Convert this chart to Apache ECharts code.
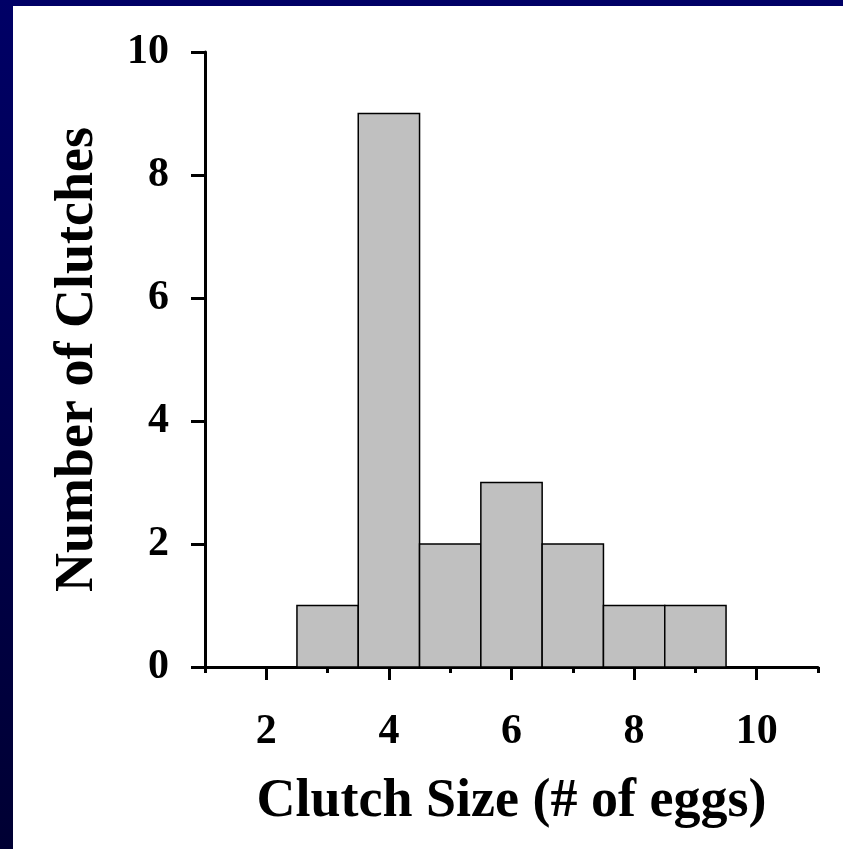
<!DOCTYPE html>
<html>
<head>
<meta charset="utf-8">
<script src="https://cdn.jsdelivr.net/npm/echarts@6/dist/echarts.min.js"></script>
<style>
  html, body {
    margin: 0;
    padding: 0;
    width: 843px;
    height: 849px;
    overflow: hidden;
    background: linear-gradient(#000066, #000033);
  }
  #chart {
    position: absolute;
    left: 13px;
    top: 6px;
    width: 830px;
    height: 843px;
    background: #ffffff;
  }
</style>
</head>
<body>
<div id="chart"></div>
<script>
// histogram data
var clutchSizes = [3, 4, 5, 6, 7, 8, 9]
var clutchCounts = [1, 9, 2, 3, 2, 1, 1]
var xMajorTicks = [2, 4, 6, 8, 10]
var xMinorTicks = [1, 3, 5, 7, 9, 11]

var serif = '"Liberation Serif", "Times New Roman", serif'

var chart = echarts.init(document.getElementById('chart'))

var barData = clutchSizes.map(function (s, i) {
  return [s, clutchCounts[i]]
})

chart.setOption({
  animation: false,
  grid: {
    left: 192,
    top: 46,
    width: 613,
    height: 615,
    containLabel: false
  },
  xAxis: [{
    type: 'value',
    min: 1,
    max: 11,
    name: 'Clutch Size (# of eggs)',
    nameLocation: 'middle',
    nameGap: 108,
    nameTextStyle: {
      fontFamily: serif,
      fontWeight: 'bold',
      fontSize: 54,
      color: '#000'
    },
    axisLine: { lineStyle: { color: '#000', width: 3 } },
    axisTick: {
      customValues: xMajorTicks,
      length: 13,
      lineStyle: { color: '#000', width: 3 }
    },
    axisLabel: {
      customValues: xMajorTicks,
      margin: 44,
      fontFamily: serif,
      fontWeight: 'bold',
      fontSize: 42,
      color: '#000'
    },
    splitLine: { show: false }
  }, {
    // minor ticks at the odd values
    type: 'value',
    min: 1,
    max: 11,
    position: 'bottom',
    axisLine: { show: false },
    axisTick: {
      customValues: xMinorTicks,
      length: 6,
      lineStyle: { color: '#000', width: 3 }
    },
    axisLabel: { show: false },
    splitLine: { show: false }
  }],
  yAxis: {
    type: 'value',
    min: 0,
    max: 10,
    interval: 2,
    name: 'Number of Clutches',
    nameLocation: 'middle',
    nameRotate: 90,
    nameGap: 100,
    nameTextStyle: {
      fontFamily: serif,
      fontWeight: 'bold',
      fontSize: 54,
      color: '#000'
    },
    axisLine: { show: true, lineStyle: { color: '#000', width: 3 } },
    axisTick: {
      show: true,
      length: 14,
      lineStyle: { color: '#000', width: 3 }
    },
    axisLabel: {
      margin: 36,
      fontFamily: serif,
      fontWeight: 'bold',
      fontSize: 42,
      color: '#000'
    },
    splitLine: { show: false }
  },
  series: [{
    type: 'custom',
    xAxisIndex: 0,
    data: barData,
    renderItem: function (params, api) {
      var x = api.value(0)
      var y = api.value(1)
      var p0 = api.coord([x - 0.5, y])
      var p1 = api.coord([x + 0.5, 0])
      return {
        type: 'rect',
        shape: { x: p0[0], y: p0[1], width: p1[0] - p0[0], height: p1[1] - p0[1] },
        style: { fill: '#c0c0c0', stroke: '#000', lineWidth: 1.5 }
      }
    },
    z: 1
  }]
})
</script>
</body>
</html>
